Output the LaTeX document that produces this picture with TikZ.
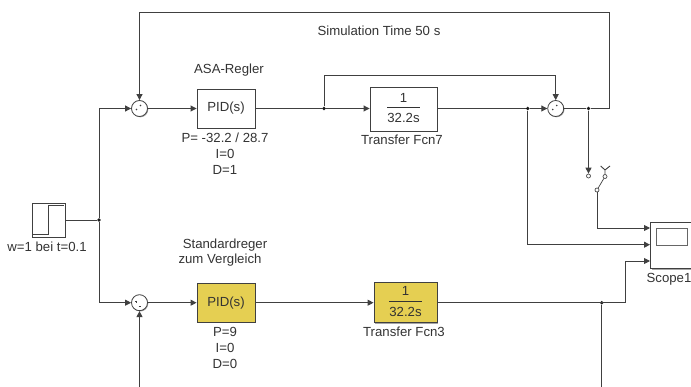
\documentclass[tikz,border=0pt]{standalone}
\usepackage{fontspec}
\setmainfont{Liberation Sans}
\usetikzlibrary{arrows.meta, calc, positioning, shadows}
\definecolor{wirec}{HTML}{404040}
\definecolor{yelb}{HTML}{E5CF52}
\newcommand{\fcnfrac}[2]{\setlength{\tabcolsep}{0pt}\renewcommand{\arraystretch}{1.08}\begin{tabular}{c}#1\\\hline\rule{0pt}{15pt}#2\end{tabular}}

\begin{document}
\begin{tikzpicture}[x=1pt,y=-1pt,>={Triangle[length=6pt,width=6pt]},
        font=\fontsize{13.2}{16}\selectfont,
        every node/.style={text=black!80},
        wire/.style={draw=wirec,line width=0.9pt},
        block/.style={draw=black!75,line width=0.9pt,fill=white,inner sep=0pt,
            drop shadow={shadow xshift=1.2pt,shadow yshift=-1.2pt,fill=black,opacity=.35}},
        pidbox/.style={block,minimum width=58pt,minimum height=39pt},
        fcnbox/.style={block,minimum width=67pt,minimum height=44pt},
        yel/.style={fill=yelb},
        sumc/.style={circle,draw=black!75,line width=0.8pt,fill=white,minimum size=16pt,inner sep=0pt,
            drop shadow={shadow xshift=0.8pt,shadow yshift=-0.8pt,fill=black,opacity=.35}},
        dot/.style={circle,fill=black!90,minimum size=3.8pt,inner sep=0pt},
        contact/.style={circle,draw=black!70,line width=0.7pt,fill=white,minimum size=4pt,inner sep=0pt},
        sign/.style={circle,fill=black!75,minimum size=1.8pt,inner sep=0pt}]
    \useasboundingbox (0,0) rectangle (691,387);

    % source and adders
    \node[block,minimum width=33pt,minimum height=34pt] (step_w) at (48.5,220) {};
    \node[sumc] (sum_a) at (139.5,108.5) {};
    \node[sumc] (sum_e) at (555.7,108.5) {};
    \node[sumc] (sum_b) at (139.5,302.7) {};

    % blocks
    \node[pidbox] (pid_a) at (226,108.5) {PID(s)};
    \node[fcnbox] (fcn_7) at (403.5,109) {\fcnfrac{1}{32.2s}};
    \node[pidbox,yel] (pid_b) at (226,302.7) {PID(s)};
    \node[block,yel,minimum width=63pt,minimum height=40pt] (fcn_3) at (405.5,302.7) {\fcnfrac{1}{32.2s}};
    \node[block,minimum width=50pt,minimum height=46pt,anchor=north west] (scope_1) at (650,222) {};
    \node[draw=black!60,line width=0.8pt,minimum width=31pt,minimum height=17pt,inner sep=0pt] (screen_1) at (671.5,237) {};

    % switch
    \node[contact] (sw_in) at (588.5,176) {};
    \node[contact] (sw_up) at (605,176.5) {};
    \node[contact] (sw_lo) at (597,190) {};
    \coordinate (ctl_t) at (605,170);
    \coordinate (ctl_l) at (600.7,166);
    \coordinate (ctl_r) at (610,166);
    \draw[wire,line width=0.7pt] (sw_up) -- (sw_lo);
    \draw[wire] (sw_up) -- (ctl_t) (ctl_l) -- (ctl_t) -- (ctl_r);

    % junctions
    \node[dot] (j_w) at (99,220) {};
    \node[dot] (j_pid) at (324,108.5) {};
    \node[dot] (j_fcn) at (527.7,108.5) {};
    \node[dot] (j_e) at (588.5,108.5) {};
    \node[dot] (j_y) at (601.7,302.7) {};
    \coordinate (top_r) at (609.7,12);
    \coordinate (top_f) at (555.7,75.7);
    \coordinate (bot_a) at (139.5,387);
    \coordinate (bot_y) at (601.7,387);
    \coordinate (y_up) at (625.7,302.7);
    \coordinate (in_a) at (650,228);
    \coordinate (in_b) at (650,244.7);
    \coordinate (in_c) at (650,261);

    % connectors
    \draw[wire] (step_w.east |- j_w) -- (j_w);
    \draw[wire,->] (j_w) |- (sum_a);
    \draw[wire,->] (j_w) |- (sum_b);
    \draw[wire,->] (sum_a) -- (pid_a);
    \draw[wire,->] (sum_b) -- (pid_b);
    \draw[wire] (pid_a) -- (j_pid);
    \draw[wire,->] (j_pid) -- (fcn_7.west |- j_pid);
    \draw[wire,->] (j_pid) |- (top_f) -- (sum_e);
    \draw[wire] (fcn_7.east |- j_fcn) -- (j_fcn);
    \draw[wire,->] (j_fcn) -- (sum_e);
    \draw[wire] (sum_e) -- (j_e);
    \draw[wire,->] (j_e) -| (top_r) -| (sum_a);
    \draw[wire,->] (j_e) -- (sw_in);
    \draw[wire,->] (sw_lo) |- (in_a);
    \draw[wire,->] (j_fcn) |- (in_b);
    \draw[wire,->] (pid_b) -- (fcn_3);
    \draw[wire] (fcn_3) -- (y_up);
    \draw[wire,->] (y_up) |- (in_c);
    \draw[wire] (j_y) -- (bot_y);
    \draw[wire,->] (bot_a) -- (sum_b);

    % step symbol
    \draw[wire] ($(step_w.south west)+(1,-3)$) -- ($(step_w.south)+(0,-3)$) -- ($(step_w.north)+(0,3)$) -- ($(step_w.north east)+(-1,3)$);

    % signs
    \node[sign] at ($(sum_a)+(-3,1)$) {}; \node[sign] at ($(sum_a)+(1,-3)$) {};
    \node[sign] at ($(sum_e)+(-3,1)$) {}; \node[sign] at ($(sum_e)+(1,-3)$) {};
    \draw[black!75,line width=0.6pt] ($(sum_b)+(-4.5,-1)$) -- ($(sum_b)+(-2.5,-1)$) ($(sum_b)+(-3.5,-2)$) -- ($(sum_b)+(-3.5,0)$);
    \draw[black!75,line width=0.6pt] ($(sum_b)+(-1,4)$) -- ($(sum_b)+(1,4)$);

    % labels
    \node (lbl_sim) at (379,31) {Simulation Time 50 s};
    \node (lbl_asa) at (229,70) {ASA-Regler};
    \node[align=center] (par_a) at (225,154) {P= -32.2 / 28.7\\I=0\\D=1};
    \node (lbl_f7) at (402,140) {Transfer Fcn7};
    \node (lbl_w) at (47,247) {w=1 bei t=0.1};
    \node (lbl_std) at (225,245) {Standardreger};
    \node (lbl_cmp) at (220,260) {zum Vergleich};
    \node[align=center] (par_b) at (225,348) {P=9\\I=0\\D=0};
    \node (lbl_f3) at (404,332) {Transfer Fcn3};
    \node (lbl_sc) at (669,279) {Scope1};
\end{tikzpicture}
\end{document}
